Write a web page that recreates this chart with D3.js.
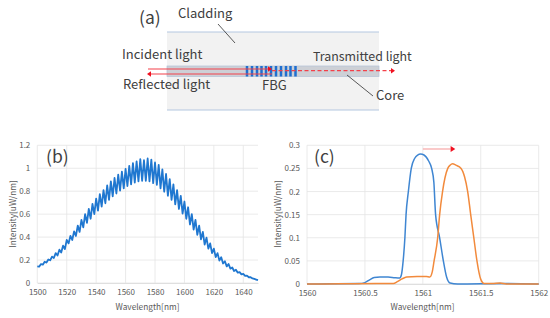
<!DOCTYPE html>
<html>
<head>
<meta charset="utf-8">
<script src="https://cdn.jsdelivr.net/npm/d3@7/dist/d3.min.js"></script>
<style>
  html, body { margin: 0; padding: 0; background: #fff; }
  svg { display: block; }
  text { font-family: "Noto Sans CJK JP", "Noto Sans", sans-serif; }
  .tick text { fill: #595959; font-size: 8px; }
  .lab { fill: #404040; font-size: 13px; }
  .panel { fill: #404040; font-size: 17.5px; }
  .atitle { fill: #595959; font-size: 8.3px; }
</style>
</head>
<body>
<svg width="550" height="318"></svg>
<script>
// panel (b), broadband spectrum with ripple
var bWavelength = [
  1500,1501.25,1502.5,1503.75,1505,1506.25,1507.5,1508.75,1510,1511.25,1512.5,1513.75,1515,1516.25,1517.5,1518.75,
  1520,1521.25,1522.5,1523.75,1525,1526.25,1527.5,1528.75,1530,1531.25,1532.5,1533.75,1535,1536.25,1537.5,1538.75,
  1540,1541.25,1542.5,1543.75,1545,1546.25,1547.5,1548.75,1550,1551.25,1552.5,1553.75,1555,1556.25,1557.5,1558.75,
  1560,1561.25,1562.5,1563.75,1565,1566.25,1567.5,1568.75,1570,1571.25,1572.5,1573.75,1575,1576.25,1577.5,1578.75,
  1580,1581.25,1582.5,1583.75,1585,1586.25,1587.5,1588.75,1590,1591.25,1592.5,1593.75,1595,1596.25,1597.5,1598.75,
  1600,1601.25,1602.5,1603.75,1605,1606.25,1607.5,1608.75,1610,1611.25,1612.5,1613.75,1615,1616.25,1617.5,1618.75,
  1620,1621.25,1622.5,1623.75,1625,1626.25,1627.5,1628.75,1630,1631.25,1632.5,1633.75,1635,1636.25,1637.5,1638.75,
  1640,1641.25,1642.5,1643.75,1645,1646.25,1647.5,1648.75,1650];
var bIntensity = [
  .145,.142,.165,.16,.185,.178,.205,.198,.23,.218,.26,.24,.29,.265,.325,.295,
  .375,.345,.41,.375,.45,.41,.50,.445,.55,.485,.60,.525,.645,.56,.69,.60,
  .735,.63,.775,.665,.81,.695,.85,.725,.885,.755,.915,.78,.945,.805,.97,.825,
  .995,.845,1.02,.86,1.045,.875,1.06,.885,1.08,.89,1.07,.89,1.085,.885,1.075,.87,
  1.05,.855,1.03,.825,.99,.795,.95,.76,.905,.725,.86,.685,.81,.645,.76,.605,
  .71,.56,.66,.51,.60,.465,.55,.42,.50,.38,.445,.335,.395,.30,.345,.26,
  .30,.225,.26,.195,.225,.17,.19,.145,.165,.125,.135,.105,.115,.09,.095,.075,
  .08,.062,.065,.05,.05,.04,.035,.03,.025];
var bXTicks = [1500,1520,1540,1560,1580,1600,1620,1640];
var bYTicks = [0,0.2,0.4,0.6,0.8,1,1.2];

// panel (c), reflected peak before and after the shift
var cBlueX = [1560,1560.2,1560.45,1560.5,1560.54,1560.58,1560.63,1560.7,1560.76,1560.8,1560.815,1560.83,1560.845,1560.855,1560.875,1560.9,1560.93,1560.955,1560.98,1561.01,1561.05,1561.076,1561.095,1561.11,1561.145,1561.177,1561.205,1561.235,1561.3,1561.7,1562];
var cBlueY = [0,0.0005,0.001,0.003,0.009,0.014,0.015,0.015,0.0135,0.013,0.02,0.05,0.1,0.15,0.2,0.25,0.272,0.279,0.281,0.279,0.266,0.25,0.22,0.15,0.1,0.05,0.015,0.002,0,0.001,0];
var cOrangeX = [1560,1560.3,1560.6,1560.745,1560.78,1560.82,1560.86,1560.95,1561.03,1561.06,1561.08,1561.097,1561.128,1561.145,1561.17,1561.215,1561.235,1561.257,1561.285,1561.33,1561.36,1561.387,1561.413,1561.44,1561.467,1561.5,1561.53,1561.6,1561.667,1561.72,1562];
var cOrangeY = [0,0.0005,0.001,0.001,0.005,0.011,0.015,0.016,0.016,0.015,0.025,0.05,0.1,0.15,0.2,0.25,0.257,0.26,0.257,0.25,0.232,0.2,0.15,0.1,0.05,0.01,0.001,0.001,0.002,0,0];
var cXTicks = [1560,1560.5,1561,1561.5,1562];
var cYTicks = [0,0.05,0.1,0.15,0.2,0.25,0.3];

var svg = d3.select("svg");

function drawChart(opt) {
    var x = d3.scaleLinear().domain(opt.xDomain).range(opt.xRange);
    var y = d3.scaleLinear().domain(opt.yDomain).range(opt.yRange);
    var g = svg.append("g");

    // gridlines first, the axes only carry the labels
    g.selectAll("line.gy").data(opt.yTicks).enter().append("line")
        .attr("x1", opt.xRange[0]).attr("x2", opt.xRange[1])
        .attr("y1", d => y(d)).attr("y2", d => y(d))
        .attr("stroke", "#e4e4e4").attr("stroke-width", 0.8);
    g.selectAll("line.gx").data(opt.xTicks).enter().append("line")
        .attr("x1", d => x(d)).attr("x2", d => x(d))
        .attr("y1", opt.yRange[0]).attr("y2", opt.yRange[1])
        .attr("stroke", "#e4e4e4").attr("stroke-width", 0.8);

    var xAxis = g.append("g")
        .attr("transform", "translate(0," + opt.yRange[0] + ")")
        .call(d3.axisBottom(x).tickValues(opt.xTicks).tickFormat(d => String(d)).tickSize(0).tickPadding(6));
    var yAxis = g.append("g")
        .attr("transform", "translate(" + opt.xRange[0] + ",0)")
        .call(d3.axisLeft(y).tickValues(opt.yTicks).tickFormat(d => String(d)).tickSize(0).tickPadding(7));
    xAxis.select(".domain").attr("stroke", "#d9d9d9").attr("stroke-width", 0.8);
    yAxis.select(".domain").remove();

    g.append("text").attr("class", "atitle")
        .attr("x", opt.xTitleX).attr("y", 310).attr("text-anchor", "middle")
        .text("Wavelength[nm]");
    g.append("text").attr("class", "atitle")
        .attr("transform", "translate(" + opt.yTitleX + ",214) rotate(-90)")
        .attr("text-anchor", "middle")
        .text("Intensity[uW/nm]");
    g.append("text").attr("class", "panel")
        .attr("x", opt.panelX).attr("y", 163).text(opt.panel);

    var line = d3.line().x(d => x(d[0])).y(d => y(d[1]));
    opt.series.forEach(function (s) {
        g.append("path")
            .datum(d3.zip(s.x, s.y))
            .attr("fill", "none")
            .attr("stroke", s.color)
            .attr("stroke-width", s.width)
            .attr("stroke-linejoin", "round")
            .attr("d", line.curve(s.curve));
    });
    return { x: x, y: y, g: g };
}

drawChart({
    xDomain: [1500, 1650], xRange: [37.3, 258],
    yDomain: [0, 1.2], yRange: [283, 145.3],
    xTicks: bXTicks, yTicks: bYTicks,
    xTitleX: 147.5, yTitleX: 15.5, panel: "(b)", panelX: 46,
    series: [{ x: bWavelength, y: bIntensity, color: "#1f77d0", width: 1.8, curve: d3.curveLinear }]
});

var c = drawChart({
    xDomain: [1560, 1562], xRange: [307, 538.7],
    yDomain: [0, 0.3], yRange: [284, 145.3],
    xTicks: cXTicks, yTicks: cYTicks,
    xTitleX: 422.5, yTitleX: 281, panel: "(c)", panelX: 314,
    series: [
        { x: cBlueX, y: cBlueY, color: "#3f86d2", width: 1.5, curve: d3.curveMonotoneX },
        { x: cOrangeX, y: cOrangeY, color: "#f28a3c", width: 1.5, curve: d3.curveMonotoneX }
    ]
});

// shift arrow in (c)
c.g.append("line")
    .attr("x1", c.x(1561)).attr("x2", c.x(1561.24))
    .attr("y1", c.y(0.292)).attr("y2", c.y(0.292))
    .attr("stroke", "#f7a6a6").attr("stroke-width", 1.2);
c.g.append("path")
    .attr("d", d3.line()([[c.x(1561.24), c.y(0.292) - 3], [c.x(1561.28), c.y(0.292)], [c.x(1561.24), c.y(0.292) + 3]]))
    .attr("fill", "#f01020");

// panel (a), fibre schematic
var a = svg.append("g");
a.append("rect").attr("x", 167).attr("y", 32).attr("width", 212).attr("height", 78).attr("fill", "#f2f2f2");
[32, 110].forEach(function (yy) {
    a.append("line").attr("x1", 167).attr("x2", 379).attr("y1", yy).attr("y2", yy)
        .attr("stroke", "#b4c7e0").attr("stroke-width", 1);
});
a.append("rect").attr("x", 167).attr("y", 66).attr("width", 212).attr("height", 10.5)
    .attr("fill", "#cdd0d6").attr("stroke", "#b4c2d6").attr("stroke-width", 0.7);

// grating lines
var gratingX = [247, 252, 257, 261.5, 266, 271, 276, 281, 286, 290.5, 295.5];
a.selectAll("rect.grating").data(gratingX).enter().append("rect")
    .attr("x", d => d - 1.25).attr("y", 66).attr("width", 2.5).attr("height", 10.5)
    .attr("fill", "#1f6fd0");

function arrowHead(x, y, dir, size) {
    a.append("path")
        .attr("d", d3.line()([[x - dir * size, y - size * 0.7], [x, y], [x - dir * size, y + size * 0.7]]))
        .attr("fill", "#f01020");
}
a.append("line").attr("x1", 148).attr("x2", 268).attr("y1", 69).attr("y2", 69)
    .attr("stroke", "#f4404a").attr("stroke-width", 1.2);
arrowHead(272, 69, 1, 4);
a.append("line").attr("x1", 272).attr("x2", 151).attr("y1", 74).attr("y2", 74)
    .attr("stroke", "#f4404a").attr("stroke-width", 1.2);
arrowHead(147, 74, -1, 4);
a.append("line").attr("x1", 272).attr("x2", 391).attr("y1", 70.7).attr("y2", 70.7)
    .attr("stroke", "#f4404a").attr("stroke-width", 1.2).attr("stroke-dasharray", "4,2.5");
arrowHead(395, 70.7, 1, 4);

// leader lines
[[218, 24, 235, 43], [347, 75, 373, 96]].forEach(function (l) {
    a.append("line").attr("x1", l[0]).attr("y1", l[1]).attr("x2", l[2]).attr("y2", l[3])
        .attr("stroke", "#303030").attr("stroke-width", 0.8);
});

var aLabels = [
    ["Cladding", 178, 18], ["Incident light", 122, 59], ["Reflected light", 123, 89],
    ["FBG", 262, 90], ["Core", 376, 100]
];
a.selectAll("text.lab").data(aLabels).enter().append("text")
    .attr("class", "lab")
    .attr("x", d => d[1]).attr("y", d => d[2]).text(d => d[0]);
a.append("text").attr("class", "lab").style("font-size", "12.4px")
    .attr("x", 313).attr("y", 61).text("Transmitted light");
a.append("text").attr("class", "panel").attr("x", 139).attr("y", 24).text("(a)");
</script>
</body>
</html>
